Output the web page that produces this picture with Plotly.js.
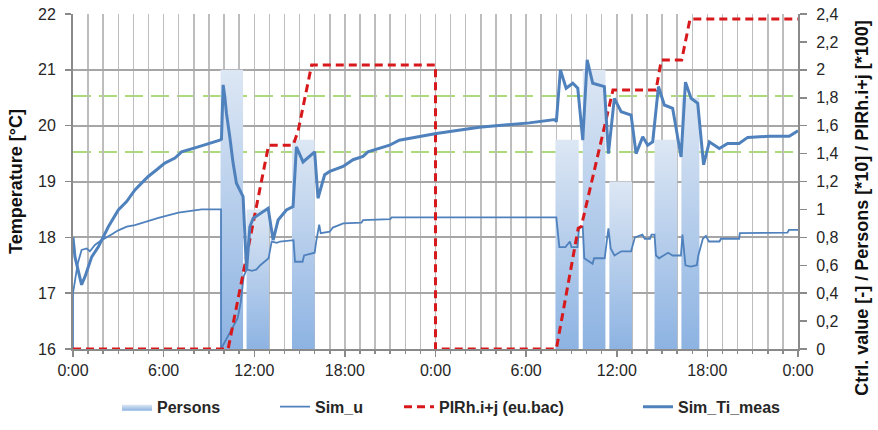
<!DOCTYPE html>
<html><head><meta charset="utf-8">
<script src="https://cdn.plot.ly/plotly-3.0.1.min.js"></script>
<style>html,body{margin:0;padding:0;background:#fff}#chart{width:878px;height:430px}</style>
</head><body><div id="chart"></div>
<script>
// ---- data (hours from 0:00 of day 1) ----
const tiHours = [0,0.13,0.57,0.8,1.24,1.68,2.34,3.0,3.55,4.1,4.54,4.98,5.54,6.08,6.75,7.19,8.29,9.17,9.72,
  9.83,9.94,10.05,10.16,10.38,10.6,10.82,11.15,11.26,11.49,11.71,11.93,12.26,12.92,13.25,13.58,14.13,14.57,14.79,15.23,16.0,16.22,16.66,17.0,
  17.88,18.54,19.2,19.53,20.96,21.6,24.05,26.9,30.2,31.9,32.0,32.27,32.65,33.09,33.42,33.75,34.04,34.41,35.18,
  35.45,35.84,36.29,36.95,37.28,37.72,38.05,38.38,38.76,39.15,39.7,40.26,40.55,40.92,41.36,41.75,42.13,42.79,
  43.34,44.1,44.67,46.1,47.42,48.0];
const tiTemp = [18.0,17.65,17.15,17.3,17.65,17.83,18.19,18.49,18.64,18.85,18.97,19.09,19.21,19.33,19.42,19.53,19.62,19.69,19.74,
  19.76,20.73,20.52,20.22,19.8,19.33,18.97,18.79,18.73,17.41,18.19,18.34,18.4,18.52,17.95,18.31,18.49,18.55,19.62,19.35,19.53,18.7,19.12,19.18,
  19.27,19.39,19.45,19.53,19.65,19.74,19.86,19.97,20.05,20.11,20.07,21.0,20.67,20.76,20.67,19.74,21.18,20.76,20.7,
  19.5,20.49,20.25,20.19,19.5,19.8,19.65,19.71,20.7,20.37,20.31,19.44,20.78,20.49,20.4,19.3,19.71,19.59,
  19.68,19.68,19.79,19.81,19.81,19.91];

const uHours = [0,0,0.31,0.57,0.9,1.12,1.45,1.9,2.55,3.0,3.56,4.1,4.8,5.66,6.98,8.52,9.8,9.8,10.9,11.1,11.3,11.5,11.85,
  12.15,12.4,12.7,12.95,13.15,13.5,13.7,14.6,14.7,15.2,15.3,16.0,16.1,16.3,16.4,17.0,17.2,17.9,19.1,19.2,21.0,21.1,
  32.0,32.2,32.6,32.9,33.0,33.4,33.5,33.75,33.85,34.4,34.5,35.2,35.45,35.6,35.85,36.3,36.95,37.2,37.7,37.85,38.2,
  38.3,38.5,38.6,38.8,39.1,39.4,39.7,40.25,40.35,40.45,40.55,40.9,41.3,41.4,41.7,41.9,42.1,42.8,42.9,44.1,44.15,
  47.3,47.4,48.0];
const uValue = [0,0.40,0.61,0.71,0.72,0.70,0.745,0.78,0.82,0.85,0.876,0.888,0.91,0.94,0.977,1.0,1.0,0,0.22,0.33,0.52,0.57,0.56,
  0.57,0.60,0.625,0.65,0.77,0.76,0.77,0.78,0.625,0.625,0.67,0.69,0.77,0.89,0.83,0.84,0.87,0.90,0.905,0.924,0.93,0.943,
  0.943,0.73,0.73,0.77,0.73,0.73,0.865,0.876,0.65,0.61,0.65,0.65,0.865,0.72,0.67,0.70,0.70,0.80,0.82,0.79,0.79,
  0.82,0.82,0.67,0.65,0.67,0.69,0.67,0.67,0.82,0.69,0.60,0.59,0.60,0.67,0.79,0.81,0.77,0.77,0.79,0.79,0.83,
  0.834,0.853,0.853];

const pirHours = [0,10.27,12.95,14.57,14.9,15.8,24.0,24.0,32.0,33.45,33.65,35.75,38.6,38.95,40.3,40.85,48.0];
const pirValue = [0,0,1.46,1.46,1.56,2.035,2.035,0,0,0.865,0.877,1.855,1.855,2.07,2.07,2.364,2.364];

const personStart = [9.77,11.49,14.5,31.94,33.75,35.51,38.5,40.28];
const personEnd   = [11.26,12.98,16.0,33.48,35.25,37.01,40.0,41.47];
const personCount = [20,10,15,15,20,12,15,18];

const setpoints = [19.53,20.53];
const xTickVals = [0,6,12,18,24,30,36,42,48];
const xTickText = ['0:00','6:00','12:00','18:00','0:00','6:00','12:00','18:00','0:00'];

// ---- traces ----
const blue = '#4f81bd';
const traces = [];
personStart.forEach((s, i) => {
  const e = personEnd[i], h = personCount[i] / 10;
  traces.push({
    type: 'scatter', mode: 'lines', x: [s, s, e, e, s], y: [0, h, h, 0, 0],
    fill: 'toself', line: {width: 0, color: 'rgba(0,0,0,0)'},
    fillgradient: {type: 'vertical', colorscale: [[0, '#8db3e2'], [1, '#dde7f4']]},
    name: 'Persons', legendgroup: 'persons', showlegend: i === 0, legend: 'legend',
    xaxis: 'x', yaxis: 'y2', hoverinfo: 'skip'
  });
});
traces.push({type: 'scatter', mode: 'lines', x: uHours, y: uValue, name: 'Sim_u', legend: 'legend2',
  line: {color: blue, width: 1.8}, xaxis: 'x', yaxis: 'y2'});
traces.push({type: 'scatter', mode: 'lines', x: pirHours, y: pirValue, name: 'PIRh.i+j (eu.bac)', legend: 'legend3',
  line: {color: '#d7191c', width: 3, dash: '8px,5px'}, xaxis: 'x', yaxis: 'y2'});
traces.push({type: 'scatter', mode: 'lines', x: tiHours, y: tiTemp, name: 'Sim_Ti_meas', legend: 'legend4',
  line: {color: blue, width: 3}, xaxis: 'x', yaxis: 'y'});

const font = 'Liberation Sans, Arial, sans-serif';
const txt = '#262626';
const legendBase = (xpx) => ({orientation: 'h', xref: 'container', yref: 'container', x: xpx / 878, y: 0.054,
  xanchor: 'left', yanchor: 'middle', font: {size: 16, color: txt, weight: 'bold'}, bgcolor: 'rgba(0,0,0,0)'});
const layout = {
  width: 878, height: 430,
  margin: {l: 73, r: 80, t: 14, b: 81},
  paper_bgcolor: '#fff', plot_bgcolor: '#fff',
  separators: ', ',
  font: {family: font, size: 16, color: txt},
  showlegend: true,
  legend: legendBase(117),
  legend2: legendBase(275),
  legend3: legendBase(399),
  legend4: legendBase(638),
  xaxis: {range: [0, 48], anchor: 'y2', tickmode: 'array', tickvals: xTickVals, ticktext: xTickText,
    showgrid: true, gridcolor: '#bdbdbd', gridwidth: 1.5, zeroline: false,
    showline: true, linecolor: '#8a8a8a', linewidth: 2,
    ticks: 'outside', ticklen: 6, tickcolor: '#8a8a8a', tickwidth: 1.5,
    minor: {dtick: 1, tick0: 0, showgrid: true, gridcolor: '#bdbdbd', gridwidth: 1.5, ticks: 'outside', ticklen: 3, tickcolor: '#8a8a8a'},
    tickfont: {size: 16, color: txt}, fixedrange: true},
  yaxis2: {range: [0, 2.4], side: 'right', anchor: 'x', dtick: 0.2, tick0: 0,
    showgrid: false, zeroline: false, showline: true, linecolor: '#8a8a8a', linewidth: 2,
    ticks: 'outside', ticklen: 7, tickcolor: '#8a8a8a', tickwidth: 1.5, ticklabelstandoff: 6,
    tickfont: {size: 16, color: txt}},
  yaxis: {range: [16, 22], overlaying: 'y2', side: 'left', anchor: 'x', dtick: 1, tick0: 16,
    showgrid: true, gridcolor: '#a6a6a6', gridwidth: 2, zeroline: false,
    showline: true, linecolor: '#8a8a8a', linewidth: 2,
    ticks: 'outside', ticklen: 6, tickcolor: '#8a8a8a', tickwidth: 1.5, ticklabelstandoff: 6,
    tickfont: {size: 16, color: txt}},
  shapes: setpoints.map(v => ({type: 'line', xref: 'paper', x0: 0, x1: 1, yref: 'y', y0: v, y1: v,
    line: {color: '#92d050', width: 1.5, dash: '18px,8px'}, layer: 'below'})),
  annotations: [
    {text: 'Temperature [°C]', xref: 'paper', yref: 'paper', x: -0.0793, y: 0.5, textangle: -90,
      showarrow: false, xanchor: 'center', yanchor: 'middle', font: {size: 18, color: '#111', family: font, weight: 'bold'}},
    {text: 'Ctrl. value [-] / Persons [*10] / PIRh.i+j [*100]', xref: 'paper', yref: 'paper', x: 1.088, y: 0.421,
      textangle: -90, showarrow: false, xanchor: 'center', yanchor: 'middle',
      font: {size: 18, color: '#111', family: font, weight: 'bold'}}
  ]
};
Plotly.newPlot('chart', traces, layout, {staticPlot: true, displayModeBar: false});
</script></body></html>
